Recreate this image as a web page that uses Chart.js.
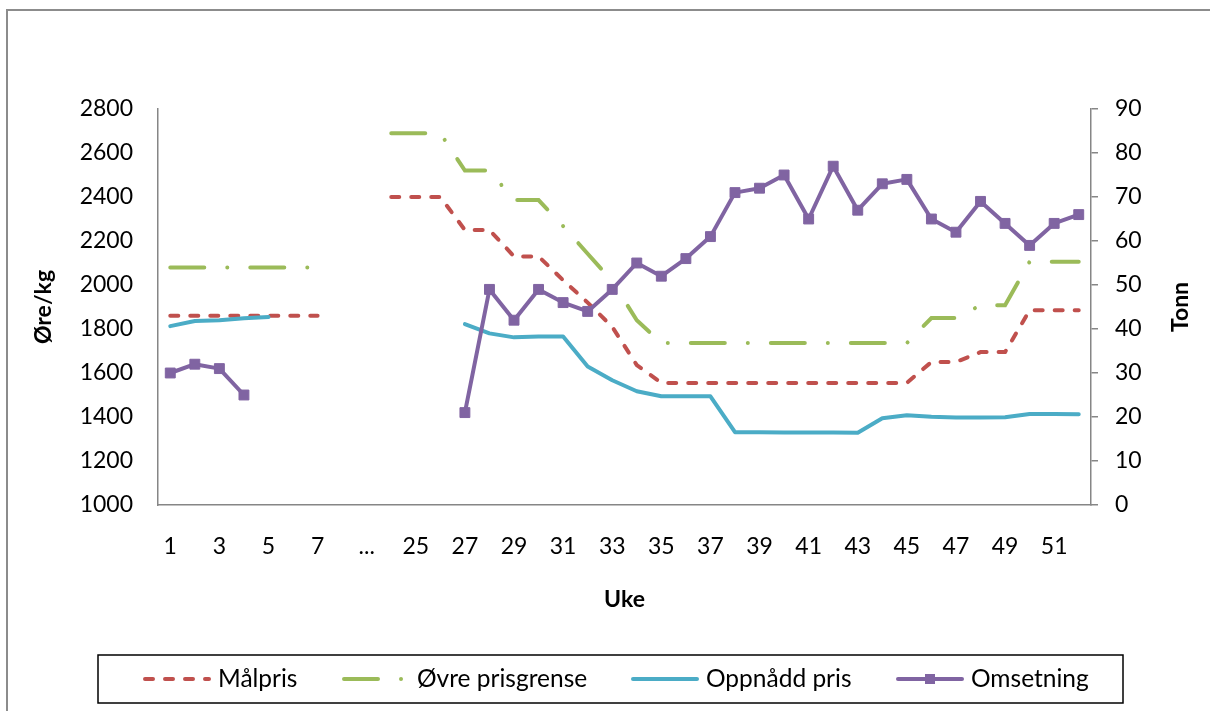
<!DOCTYPE html>
<html lang="no">
<head>
    <meta charset="UTF-8">
    <title>Målpris og omsetning</title>
    <style>
        body { margin: 0; background: #fff; }
        canvas { display: block; }
    </style>
</head>
<body>
    <canvas id="myChart" width="1210" height="711"></canvas>
</body>
<script src="https://cdn.jsdelivr.net/npm/chart.js"></script>
<script>
// uker: 1-8, "...", 24-52
const weeks = ['1','2','3','4','5','6','7','8','...','24','25','26','27','28','29','30','31','32','33','34','35','36','37','38','39','40','41','42','43','44','45','46','47','48','49','50','51','52'];

// øre/kg
const malpris = [1860,1860,1860,1860,1860,1860,1860,null,null,2400,2400,2400,2250,2250,2130,2130,2022,1920,1810,1636,1555,1555,1555,1555,1555,1555,1555,1555,1555,1555,1555,1650,1650,1695,1695,1885,1885,1885];
const ovrePrisgrense = [2080,2080,2080,2080,2080,2080,2080,null,null,2690,2690,2690,2520,2520,2386,2386,2268,2142,2018,1840,1736,1736,1736,1736,1736,1736,1736,1736,1736,1736,1736,1850,1850,1908,1908,2106,2106,2106];
const oppnaddPris = [1813,1836,1840,1849,1854,null,null,null,null,null,null,null,1822,1780,1762,1766,1766,1630,1567,1517,1494,1494,1494,1331,1331,1330,1329,1329,1328,1394,1408,1401,1398,1398,1399,1414,1414,1413];

// tonn
const omsetning = [30,32,31,25,null,null,null,null,null,null,null,null,21,49,42,49,46,44,49,55,52,56,61,71,72,75,65,77,67,73,74,65,62,69,64,59,64,66];

const leftTicks = { min: 1000, max: 2800, step: 200 };
const rightTicks = { min: 0, max: 90, step: 10 };

Chart.defaults.font.family = 'Lato';
Chart.defaults.font.size = 23;
Chart.defaults.color = '#000';

const axisColor = '#868686';
const titleFont = { family: 'Lato', size: 23, weight: 'bold' };

// ramme rundt hele diagrammet, legend i boks, og høyre aksetittel (leses nedenfra og opp)
const framePlugin = {
    id: 'frame',
    beforeDraw(chart) {
        const ctx = chart.ctx;
        ctx.save();
        ctx.fillStyle = '#fff';
        ctx.fillRect(0, 0, chart.width, chart.height);
        ctx.strokeStyle = '#8c8c8c';
        ctx.lineWidth = 2;
        ctx.strokeRect(7, 10, chart.width + 20, chart.height + 20);
        ctx.restore();
    },
    afterDraw(chart) {
        const ctx = chart.ctx;
        const area = chart.chartArea;
        ctx.save();

        ctx.translate(1181, (area.top + area.bottom) / 2);
        ctx.rotate(-Math.PI / 2);
        ctx.font = 'bold 23px Lato';
        ctx.fillStyle = '#000';
        ctx.textAlign = 'center';
        ctx.textBaseline = 'middle';
        ctx.fillText('Tonn', 0, 0);
        ctx.setTransform(1, 0, 0, 1, 0, 0);

        ctx.strokeStyle = '#000';
        ctx.lineWidth = 1.5;
        ctx.strokeRect(98, 655, 1025, 48);

        const starts = [142, 341, 630, 895];
        const y = 679;
        chart.data.datasets.forEach((ds, i) => {
            const x0 = starts[i], x1 = x0 + 70;
            ctx.beginPath();
            ctx.strokeStyle = ds.borderColor;
            ctx.lineWidth = ds.borderWidth;
            ctx.lineCap = 'round';
            ctx.setLineDash(ds.borderDash || []);
            ctx.moveTo(x0 + 3, y);
            ctx.lineTo(x1 - 3, y);
            ctx.stroke();
            ctx.setLineDash([]);
            if (ds.pointRadius > 0) {
                ctx.fillStyle = ds.borderColor;
                ctx.fillRect((x0 + x1) / 2 - 5, y - 5, 10, 10);
            }
            ctx.fillStyle = '#000';
            ctx.font = '24.5px Lato';
            ctx.textBaseline = 'middle';
            ctx.textAlign = 'left';
            ctx.fillText(ds.label, x1 + 6, y);
        });
        ctx.restore();
    }
};

new Chart(document.getElementById('myChart').getContext('2d'), {
    type: 'line',
    data: {
        labels: weeks,
        datasets: [
            { label: 'Målpris', data: malpris, yAxisID: 'y', borderColor: '#C0504D', borderWidth: 4, borderDash: [8, 12], borderCapStyle: 'round', pointRadius: 0, order: 4 },
            { label: 'Øvre prisgrense', data: ovrePrisgrense, yAxisID: 'y', borderColor: '#9BBB59', borderWidth: 4, borderDash: [34, 23, 0.01, 23], borderCapStyle: 'round', pointRadius: 0, order: 3 },
            { label: 'Oppnådd pris', data: oppnaddPris, yAxisID: 'y', borderColor: '#4BACC6', borderWidth: 4, borderCapStyle: 'round', borderJoinStyle: 'round', pointRadius: 0, order: 2 },
            { label: 'Omsetning', data: omsetning, yAxisID: 'y1', borderColor: '#8064A2', backgroundColor: '#8064A2', borderWidth: 4, borderJoinStyle: 'round', pointStyle: 'rect', pointRadius: 7, pointBorderWidth: 1, order: 1 }
        ]
    },
    options: {
        responsive: false,
        animation: false,
        devicePixelRatio: 1,
        spanGaps: false,
        layout: { padding: { top: 109, bottom: 86, left: 0, right: 0 } },
        plugins: { legend: { display: false }, tooltip: { enabled: false } },
        scales: {
            x: {
                type: 'category',
                offset: true,
                grid: { display: false, drawTicks: false },
                border: { color: axisColor, width: 1.5 },
                ticks: {
                    autoSkip: false, maxRotation: 0, padding: 28,
                    callback: (v, i) => i % 2 === 0 ? weeks[i] : ''
                },
                title: { display: true, text: 'Uke', font: titleFont, padding: { top: 0, bottom: 12 } },
                afterFit: s => { s.height = 120; }
            },
            y: {
                position: 'left',
                min: leftTicks.min, max: leftTicks.max,
                grid: { display: false, drawTicks: false },
                border: { color: axisColor, width: 1.5 },
                ticks: { stepSize: leftTicks.step, padding: 25, callback: v => String(v) },
                title: { display: true, text: 'Øre/kg', font: titleFont, padding: { top: 30, bottom: 0 } },
                afterFit: s => { s.width = 158; }
            },
            y1: {
                position: 'right',
                min: rightTicks.min, max: rightTicks.max,
                grid: { display: true, drawOnChartArea: false, drawTicks: true, tickLength: 7, color: axisColor, lineWidth: 1.5 },
                border: { color: axisColor, width: 1.5 },
                ticks: { stepSize: rightTicks.step, padding: 17, callback: v => String(v) },
                afterFit: s => { s.width = 119; }
            }
        }
    },
    plugins: [framePlugin]
});
</script>
</html>
